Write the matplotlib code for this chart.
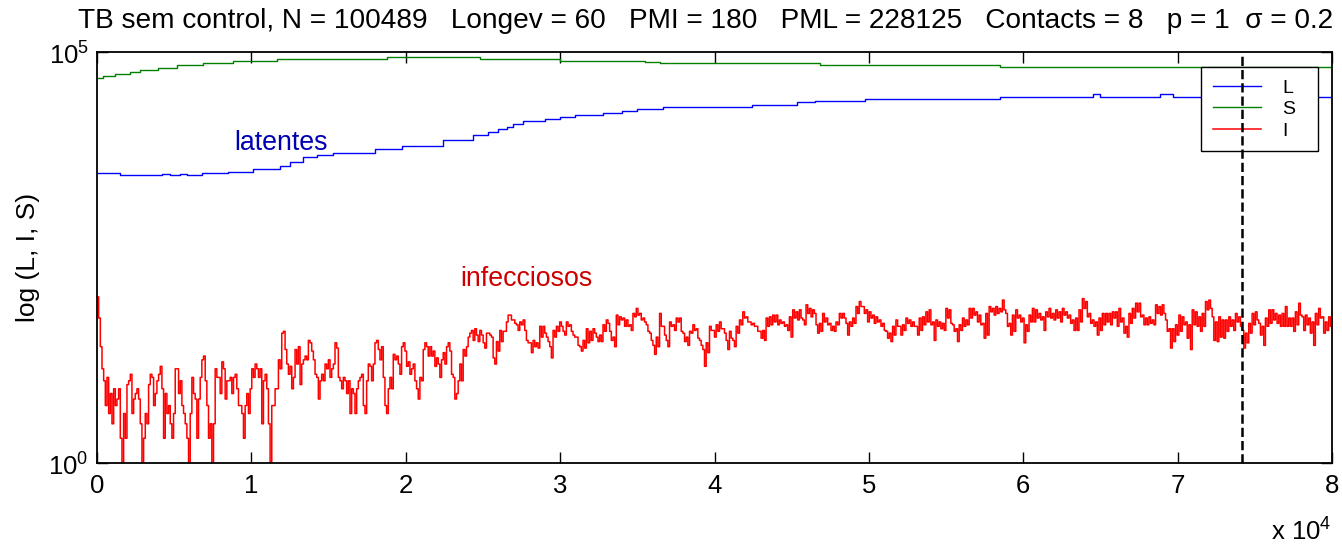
import numpy as np
import matplotlib
matplotlib.use('Agg')
import matplotlib.pyplot as plt
from matplotlib.ticker import FixedLocator, FixedFormatter, NullLocator

plt.rcParams['font.family'] = ['Liberation Sans', 'DejaVu Sans']
plt.rcParams['mathtext.fontset'] = 'custom'
plt.rcParams['mathtext.rm'] = 'Liberation Sans'

# ---- data ----

# susceptibles (S), step changes
s_t = [0, 390, 1170, 2140, 2790, 3950, 5180, 6870, 8810, 11660, 18790, 24810,
       29990, 35500, 36470, 46840, 58500, 61090, 80000]
s_v = [48680, 51050, 54010, 57590, 60400, 64420, 68890, 72870, 77090, 81520,
       87670, 82200, 77090, 75000, 72870, 69200, 66600, 65710, 65710]

# latentes (L), step changes
l_t = [0, 1490, 4210, 4730, 5380, 5830, 6800, 8490, 10110, 11860, 12500, 13350,
       14250, 15290, 18010, 19760, 22410, 24360, 25330, 25980, 26560, 26950,
       27600, 29020, 29990, 30970, 32780, 34010, 34980, 36670, 42430, 45350,
       46510, 49750, 58500, 64520, 64980, 68860, 69700, 80000]
l_v = [3345, 3189, 3308, 3189, 3308, 3189, 3345, 3440, 3741, 4104, 4551, 5236,
       5585, 5957, 6607, 7185, 8501, 9777, 10725, 11470, 12130, 13190, 14350,
       15180, 16190, 17120, 18260, 19310, 20260, 21600, 22850, 24440, 25340,
       27040, 28590, 30840, 28590, 30840, 28590, 28590]

# infecciosos (I), sampled evenly over 0..80000
i_early = [
    105, 58, 26, 14, 10, 5, 11, 4, 7, 3,
    8, 5, 6, 8, 2, 1, 4, 2, 9, 10,
    12, 4, 6, 7, 8, 6, 3, 1, 2, 4,
    3, 9, 12, 11, 5, 7, 10, 12, 15, 8,
    2, 7, 4, 5, 3, 2, 4, 14, 14, 7,
    10, 5, 4, 3, 2, 1, 4, 11, 7, 6,
    2, 6, 11, 18, 20, 10, 5, 2, 3, 1,
    3, 14, 11, 11, 7, 17, 14, 6, 10, 10,
    11, 7, 11, 12, 8, 5, 5, 4, 2, 5,
    7, 4, 8, 14, 11, 16, 14, 11, 14, 3,
    10, 12, 8, 3, 1, 5, 5, 8, 8, 18,
    14, 38, 40, 24, 16, 12, 15, 8, 11, 24,
    16, 26, 9, 16, 18, 20, 18, 31, 29, 23,
    18, 12, 11, 6, 10, 12, 10, 16, 14, 18,
    11, 14, 16, 29, 25, 11, 10, 8, 11, 10,
    7, 10, 4, 8, 7, 4, 8, 10, 11, 12,
    5, 4, 10, 16, 15, 10, 16, 29, 31, 24,
    18, 26, 11, 5, 4, 8, 11, 8, 21, 18,
    20, 16, 12, 26, 29, 23, 15, 17, 12, 14,
    16, 10, 8, 6, 11, 10, 24, 29, 26, 20,
    26, 20, 23, 15, 19, 16, 11, 18, 22, 16,
    26, 29, 23, 12, 11, 6, 7, 10, 16, 10,
    24, 20, 26, 34, 38, 41, 31, 43, 36, 30,
    41, 36, 29, 25, 38, 38]
i_mid = [
    36, 34, 19, 16, 30, 23, 41, 30, 40, 40,
    52, 63, 63, 55, 55, 50, 48, 41, 52, 48,
    55, 41, 31, 29, 29, 22, 31, 26, 29, 25,
    46, 34, 46, 38, 34, 30, 26, 19, 41, 34,
    46, 40, 52, 46, 40, 36, 52, 46, 48, 40,
    36, 34, 34, 27, 26, 23, 31, 25, 43, 29,
    40, 31, 43, 38, 34, 30, 36, 30, 48, 40,
    55, 50, 40, 31, 34, 26, 63, 48, 60, 55,
    58, 46, 55, 46, 48, 41, 66, 60, 76, 63,
    66, 55, 58, 52, 48, 40, 38, 31, 27, 21,
    34, 26, 66, 46, 46, 36, 31, 26, 52, 46,
    48, 41, 58, 52, 58, 40, 38, 30, 34, 27,
    40, 38, 48, 41, 43, 33, 31, 27, 24, 15,
    29, 22, 46, 41, 41, 34, 48, 40, 52, 43,
    43, 38, 31, 24, 40, 33, 31, 26, 46, 38,
    55, 48, 69, 58, 60, 52, 52, 48, 50, 46,
    46, 40, 40, 33, 41, 31, 58, 46, 60, 48,
    63, 52, 63, 48, 55, 50, 52, 46, 48, 41,
    60, 34, 73, 58, 69, 55, 73, 58, 55, 48,
    84, 66, 76, 60, 73, 66, 48, 38, 50, 40,
    66, 52, 58, 48, 50, 41, 46, 40, 52, 48,
    66, 58, 66, 58, 50, 36, 52, 46, 58, 50,
    80, 66, 92, 80, 80, 66, 73, 52, 69, 58,
    63, 50, 60, 52, 55, 46, 50, 41, 40, 33,
    38, 30, 46, 36, 55, 46, 46, 36, 48, 41,
    58, 50]
i_late = [
    55, 46, 52, 46, 46, 36, 58, 41, 60, 48,
    69, 52, 73, 48, 52, 31, 55, 46, 52, 43,
    50, 41, 76, 58, 73, 50, 48, 40, 43, 30,
    48, 41, 58, 46, 55, 48, 76, 58, 76, 63,
    69, 52, 63, 48, 50, 33, 66, 36, 80, 69,
    76, 63, 80, 66, 76, 69, 96, 73, 66, 46,
    50, 36, 63, 40, 73, 58, 63, 52, 58, 29,
    48, 40, 63, 52, 76, 52, 73, 58, 66, 55,
    60, 41, 69, 60, 76, 58, 66, 55, 73, 58,
    69, 52, 76, 63, 69, 58, 63, 50, 55, 41,
    58, 41, 73, 52, 100, 76, 92, 60, 66, 50,
    55, 46, 52, 36, 58, 41, 66, 48, 66, 52,
    66, 48, 69, 58, 69, 46, 76, 52, 58, 38,
    46, 34, 66, 50, 76, 58, 88, 69, 88, 60,
    63, 48, 58, 48, 60, 50, 55, 48, 84, 66,
    80, 63, 84, 66, 55, 40, 43, 25, 43, 30,
    48, 36, 63, 40, 60, 48, 52, 33, 48, 24,
    73, 48, 69, 46, 60, 40, 66, 46, 92, 73,
    96, 76, 60, 31, 52, 30, 60, 34, 55, 33,
    55, 40, 60, 46, 55, 41, 66, 52, 60, 46,
    41, 25, 38, 29, 50, 38, 66, 48, 69, 55,
    50, 36, 46, 27, 58, 46, 73, 50, 73, 55,
    66, 50, 63, 46, 66, 46, 80, 46, 58, 46,
    58, 40, 69, 48, 88, 63, 60, 41, 63, 48,
    58, 38, 52, 27, 66, 48, 76, 58, 60, 38,
    52, 41, 60, 46]

i_v = np.array(i_early + i_mid + i_late, dtype=float)
i_t = np.linspace(0, 80000, len(i_v), endpoint=False)
i_t = np.append(i_t, 80000)
i_v = np.append(i_v, i_v[-1])

t_mark = 74200

title = ('TB sem control, N = 100489   Longev = 60   PMI = 180   '
         'PML = 228125   Contacts = 8   p = 1  \u03c3 = 0.2')

# ---- figure ----

fig = plt.figure(figsize=(13.42, 5.5), dpi=100)
ax = fig.add_axes([97 / 1342, 87 / 550, 1235 / 1342, 411 / 550])

ax.step(l_t, l_v, where='post', color='b', lw=1, label='L  ')
ax.step(s_t, s_v, where='post', color=(0, 0.5, 0), lw=1, label='S  ')
ax.step(i_t, i_v, where='post', color='r', lw=1.1, label='I  ')
ax.axvline(t_mark, color='k', ls='--', lw=1.8, zorder=6)

ax.set_yscale('log')
ax.set_ylim(1, 1e5)
ax.set_xlim(0, 80000)

ax.xaxis.set_major_locator(FixedLocator(np.arange(0, 80001, 10000)))
ax.xaxis.set_major_formatter(FixedFormatter([str(k) for k in range(9)]))
ax.yaxis.set_major_locator(FixedLocator([1, 1e5]))
ax.yaxis.set_major_formatter(FixedFormatter([r'10$^{0}$', r'10$^{5}$']))
ax.yaxis.set_minor_locator(NullLocator())
ax.tick_params(axis='both', direction='in', top=True, right=True,
               length=8, width=1, labelsize=18.5, colors='k')
ax.tick_params(axis='x', pad=8)
ax.tick_params(axis='y', pad=6)
for sp in ax.spines.values():
    sp.set_linewidth(1.3)

ax.set_ylabel('log (L, I, S)', fontsize=19)
ax.yaxis.set_label_coords(-0.046, 0.5)

# title placed on the figure so it can sit a little left of the axes centre
fig.text(706 / 1342, 1 - 28 / 550, title, fontsize=20.2,
         ha='center', va='baseline')

ax.text(8875, 7816, 'latentes', color=(0, 0, 0.7), fontsize=19.3,
        ha='left', va='center')
ax.text(23515, 173, 'infecciosos', color=(0.8, 0, 0), fontsize=19.3,
        ha='left', va='center')

fig.text(1331 / 1342, 10 / 550, r'x 10$^{4}$', fontsize=18.5,
         ha='right', va='baseline')

leg = ax.legend(loc='upper right', bbox_to_anchor=(0.9889, 0.9628),
                borderaxespad=0, fontsize=14, handlelength=2.45,
                handletextpad=1.15, labelspacing=0.2, fancybox=False,
                framealpha=1, edgecolor='k', borderpad=0.6)
leg.get_frame().set_linewidth(1)
leg.set_zorder(5)

fig.savefig('out.png', dpi=100)
